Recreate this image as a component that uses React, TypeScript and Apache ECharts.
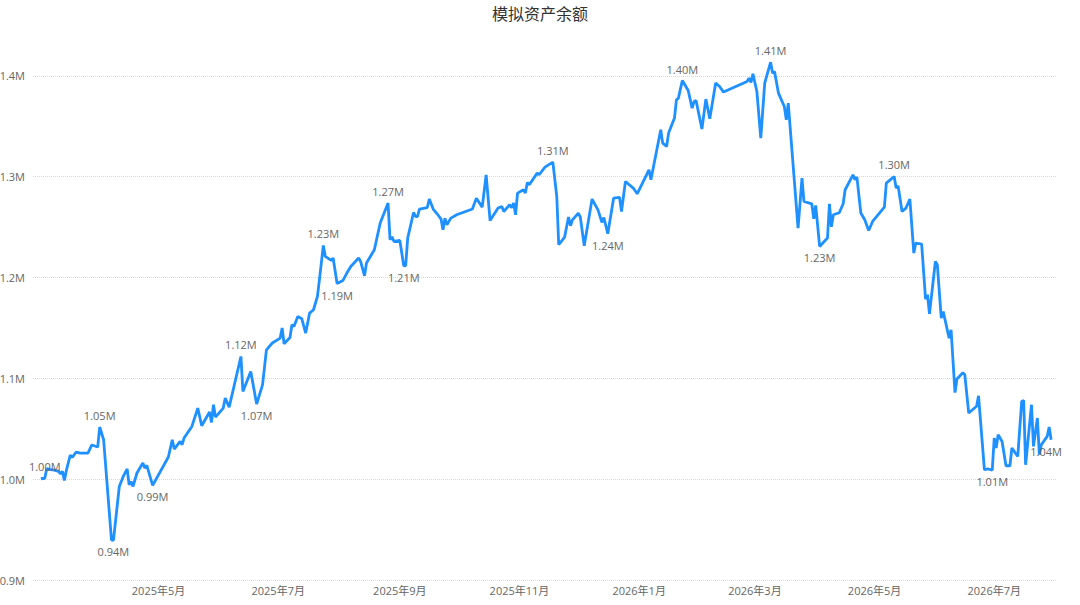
import React, { useEffect, useRef } from 'react';
import * as echarts from 'echarts';

const FONT = "'Open Sans', 'Noto Sans CJK SC', sans-serif";

const dates = [
  '2025-03-02','2025-03-04','2025-03-05','2025-03-07','2025-03-09','2025-03-11','2025-03-12','2025-03-13','2025-03-14','2025-03-15',
  '2025-03-17','2025-03-18','2025-03-20','2025-03-22','2025-03-26','2025-03-28','2025-03-31','2025-04-01','2025-04-03','2025-04-07',
  '2025-04-08','2025-04-11','2025-04-13','2025-04-15','2025-04-16','2025-04-17','2025-04-18','2025-04-20','2025-04-23','2025-04-24',
  '2025-04-25','2025-04-28','2025-05-06','2025-05-08','2025-05-09','2025-05-12','2025-05-13','2025-05-14','2025-05-18','2025-05-21',
  '2025-05-23','2025-05-27','2025-05-28','2025-05-29','2025-05-30','2025-06-03','2025-06-04','2025-06-06','2025-06-12','2025-06-13',
  '2025-06-17','2025-06-20','2025-06-23','2025-06-25','2025-06-28','2025-07-02','2025-07-03','2025-07-04','2025-07-07','2025-07-08',
  '2025-07-09','2025-07-11','2025-07-13','2025-07-15','2025-07-17','2025-07-19','2025-07-21','2025-07-22','2025-07-24','2025-07-25',
  '2025-07-28','2025-07-29','2025-07-31','2025-08-03','2025-08-05','2025-08-07','2025-08-11','2025-08-12','2025-08-14','2025-08-15',
  '2025-08-19','2025-08-22','2025-08-26','2025-08-27','2025-08-28','2025-08-29','2025-09-01','2025-09-03','2025-09-04','2025-09-05',
  '2025-09-08','2025-09-09','2025-09-10','2025-09-11','2025-09-15','2025-09-16','2025-09-18','2025-09-20','2025-09-22','2025-09-23',
  '2025-09-24','2025-09-25','2025-09-27','2025-09-30','2025-10-08','2025-10-10','2025-10-13','2025-10-15','2025-10-17','2025-10-21',
  '2025-10-23','2025-10-24','2025-10-27','2025-10-28','2025-10-29','2025-10-30','2025-10-31','2025-11-03','2025-11-04','2025-11-05',
  '2025-11-06','2025-11-10','2025-11-11','2025-11-14','2025-11-18','2025-11-20','2025-11-21','2025-11-24','2025-11-26','2025-11-27',
  '2025-11-28','2025-12-01','2025-12-02','2025-12-04','2025-12-08','2025-12-11','2025-12-13','2025-12-14','2025-12-16','2025-12-19',
  '2025-12-22','2025-12-23','2025-12-25','2025-12-29','2025-12-31','2026-01-06','2026-01-07','2026-01-12','2026-01-13','2026-01-15',
  '2026-01-16','2026-01-19','2026-01-20','2026-01-21','2026-01-23','2026-01-26','2026-01-28','2026-01-29','2026-01-30','2026-02-02',
  '2026-02-04','2026-02-06','2026-02-09','2026-02-11','2026-02-13','2026-02-25','2026-02-26','2026-02-27','2026-02-28','2026-03-02',
  '2026-03-04','2026-03-06','2026-03-09','2026-03-10','2026-03-11','2026-03-13','2026-03-16','2026-03-17','2026-03-18','2026-03-23',
  '2026-03-25','2026-03-26','2026-03-30','2026-03-31','2026-04-01','2026-04-03','2026-04-07','2026-04-08','2026-04-09','2026-04-10',
  '2026-04-13','2026-04-15','2026-04-16','2026-04-20','2026-04-21','2026-04-22','2026-04-24','2026-04-26','2026-04-28','2026-04-30',
  '2026-05-06','2026-05-07','2026-05-11','2026-05-12','2026-05-13','2026-05-15','2026-05-17','2026-05-19','2026-05-21','2026-05-22',
  '2026-05-25','2026-05-27','2026-05-28','2026-05-29','2026-06-01','2026-06-02','2026-06-04','2026-06-05','2026-06-08','2026-06-09',
  '2026-06-11','2026-06-12','2026-06-15','2026-06-16','2026-06-18','2026-06-22','2026-06-23','2026-06-26','2026-06-28','2026-06-30',
  '2026-07-01','2026-07-02','2026-07-03','2026-07-05','2026-07-07','2026-07-09','2026-07-10','2026-07-13','2026-07-15','2026-07-16',
  '2026-07-17','2026-07-20','2026-07-21','2026-07-23','2026-07-24','2026-07-25','2026-07-28','2026-07-29','2026-07-30'
];

const values = [
  1000400,1000900,1010400,1009400,1008900,1007700,1005400,1007700,998800,1008700,
  1023900,1021600,1026900,1025900,1025900,1033900,1031900,1051700,1039100,939800,
  939300,992800,1002700,1010100,994500,997800,992800,1006100,1016000,1011000,
  1013600,993800,1022000,1039100,1029900,1037400,1034200,1040800,1052300,1070500,
  1053000,1066600,1056300,1073800,1061600,1070500,1080400,1071500,1121700,1087000,
  1106800,1074500,1093600,1128300,1135000,1139900,1149900,1134300,1140500,1153100,
  1151500,1161400,1159100,1144900,1164700,1168000,1181200,1197700,1231800,1220900,
  1216900,1219300,1194000,1197100,1204400,1210900,1219300,1215900,1201700,1214300,
  1227500,1254000,1273800,1237400,1240400,1235700,1236700,1211600,1211900,1239100,
  1264500,1260500,1260500,1267900,1269400,1277800,1267900,1263200,1257900,1247300,
  1258700,1252300,1258900,1262200,1267900,1278700,1269800,1301800,1256500,1268800,
  1270400,1265500,1272100,1269100,1273800,1262200,1283700,1287000,1283700,1294200,
  1291900,1303500,1301900,1309500,1314400,1280300,1232500,1240100,1259900,1251300,
  1257200,1263900,1259900,1231500,1277800,1267100,1254600,1259500,1243400,1278800,
  1279400,1265500,1295200,1288700,1283000,1306800,1296900,1346500,1333300,1329900,
  1343200,1358100,1376200,1377900,1395300,1385400,1368000,1374500,1375500,1347200,
  1376900,1357400,1392800,1389400,1383900,1394400,1397700,1393400,1402000,1384500,
  1338200,1392800,1413500,1402700,1404300,1382900,1369600,1356400,1373000,1249000,
  1298600,1275400,1273100,1258200,1271400,1230800,1239100,1273100,1250300,1262200,
  1264200,1273100,1287000,1301800,1296900,1299600,1263900,1257200,1246600,1255600,
  1269800,1293600,1300200,1288700,1290900,1265500,1268800,1277800,1224200,1234100,
  1233100,1178600,1182900,1164000,1215900,1212600,1159800,1166300,1139900,1148200,
  1085900,1099300,1105500,1103600,1065600,1072300,1082700,1009400,1010100,1009000,
  1040800,1030900,1044100,1037400,1013300,1013300,1030900,1022600,1077100,1078100,
  1014300,1073800,1032500,1060600,1024200,1034100,1042400,1051700,1039100
];

const peakDates = [
  '2025-03-04','2025-04-01','2025-06-12','2025-07-24','2025-08-26','2025-11-18',
  '2026-01-23','2026-03-09','2026-05-11'
];
const troughDates = [
  '2025-04-08','2025-04-28','2025-06-20','2025-07-31','2025-09-03','2025-12-16',
  '2026-04-03','2026-06-30','2026-07-30'
];

const xTickDates = [
  '2025-05-01','2025-07-01','2025-09-01','2025-11-01',
  '2026-01-01','2026-03-01','2026-05-01','2026-07-01'
];
const xRange = ['2025-02-26', '2026-08-02'];
const yTickMax = 1400000;

export default function App() {
  const ref = useRef<HTMLDivElement>(null);
  useEffect(() => {
    if (!ref.current) return;
    const chart = echarts.init(ref.current, null, { renderer: 'svg' });
    const toTs = (s: string) => echarts.number.parseDate(s).getTime();
    const lastDate = dates[dates.length - 1];
    const data = dates.map((d, i) => {
      const item: any = { value: [toTs(d), values[i]] };
      if (peakDates.includes(d)) item.label = { show: true, position: 'top' };
      else if (troughDates.includes(d))
        item.label = { show: true, position: 'bottom', offset: d === lastDate ? [-5, 0] : [0, 0] };
      return item;
    });
    chart.setOption({
      animation: false,
      textStyle: { fontFamily: FONT },
      title: {
        text: '模拟资产余额',
        left: 'center',
        top: 1,
        textStyle: { fontSize: 16, fontWeight: 'normal', color: '#333', fontFamily: FONT },
      },
      grid: { left: 33, right: 23, top: -25, bottom: 25, containLabel: false, outerBoundsMode: 'none' },
      xAxis: {
        type: 'value',
        min: toTs(xRange[0]),
        max: toTs(xRange[1]),
        axisLine: { show: false },
        axisTick: { show: false },
        splitLine: { show: false },
        axisLabel: {
          customValues: xTickDates.map(toTs),
          formatter: (v: number) => {
            const d = new Date(v);
            return `${d.getFullYear()}年${d.getMonth() + 1}月`;
          },
          color: '#666',
          fontSize: 11,
          margin: 5,
          hideOverlap: false,
          showMinLabel: true,
          showMaxLabel: true,
          fontFamily: FONT,
        },
      },
      yAxis: {
        type: 'value',
        min: 900000,
        max: 1500000,
        interval: 100000,
        axisLine: { show: false },
        axisTick: { show: false },
        splitLine: { lineStyle: { type: 'dotted', color: '#d8d8d8', width: 1 } },
        axisLabel: {
          formatter: (v: number) => (v > yTickMax ? '' : (v / 1e6).toFixed(1) + 'M'),
          color: '#666',
          fontSize: 11,
          margin: 8,
          fontFamily: FONT,
        },
      },
      series: [
        {
          type: 'line',
          data,
          showSymbol: true,
          showAllSymbol: true,
          symbol: 'circle',
          symbolSize: 2,
          itemStyle: { color: 'rgba(0,0,0,0)', borderWidth: 0 },
          lineStyle: { color: '#1E90FF', width: 2.8 },
          label: {
            show: false,
            color: '#666',
            fontSize: 11,
            fontFamily: FONT,
            formatter: (p: any) => (p.value[1] / 1e6).toFixed(2) + 'M',
          },
          emphasis: { disabled: true },
        },
      ],
    });
    return () => chart.dispose();
  }, []);
  return <div ref={ref} style={{ position: 'absolute', left: 0, top: 0, width: 1080, height: 605 }} />;
}
